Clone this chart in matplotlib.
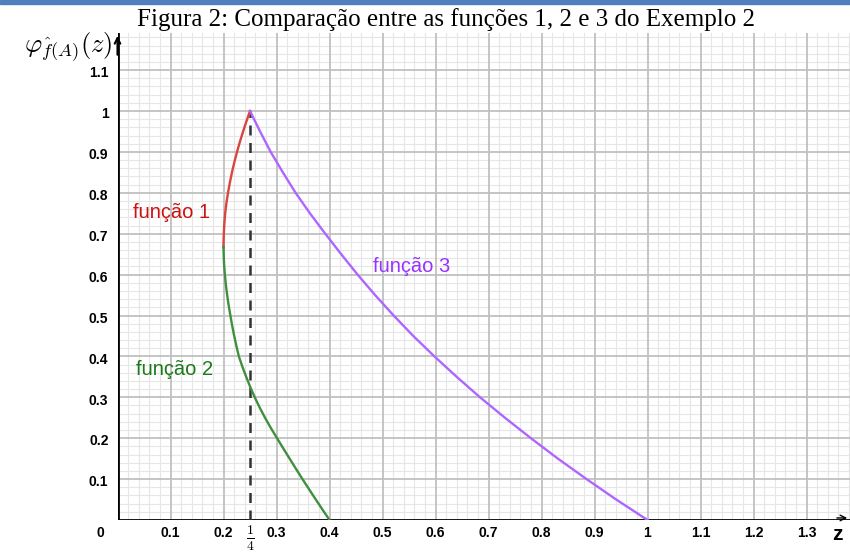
import matplotlib
matplotlib.use('Agg')
import matplotlib.pyplot as plt
from matplotlib.patches import Rectangle
import numpy as np

# curve points (z, phi)
f1_y = [0.667, 0.68, 0.70, 0.725, 0.75, 0.775, 0.80, 0.825, 0.85, 0.875, 0.90, 0.925, 0.95, 0.975, 1.0]
f1_z = [0.2000, 0.2001, 0.2006, 0.2016, 0.2032, 0.2055, 0.2085, 0.2120, 0.2160, 0.2205,
        0.2255, 0.2310, 0.2370, 0.2433, 0.2500]

f2_y = [0.667, 0.65, 0.625, 0.60, 0.575, 0.55, 0.525, 0.50, 0.475, 0.45, 0.425, 0.40,
        0.375, 0.35, 0.325, 0.30, 0.275, 0.25, 0.225, 0.20, 0.175, 0.15, 0.125, 0.10,
        0.075, 0.05, 0.025, 0.0]
f2_z = [0.2000, 0.2003, 0.2011, 0.2026, 0.2045, 0.2069, 0.2097, 0.2130, 0.2164, 0.2202,
        0.2244, 0.2290, 0.2356, 0.2428, 0.2506, 0.2590, 0.2682, 0.2784, 0.2893, 0.3010,
        0.3128, 0.3248, 0.3368, 0.3490, 0.3615, 0.3742, 0.3870, 0.4000]

f3_y = [1.0, 0.95, 0.9, 0.85, 0.8, 0.75, 0.7, 0.65, 0.6, 0.55, 0.5, 0.45, 0.4, 0.35,
        0.3, 0.25, 0.2, 0.15, 0.1, 0.05, 0.0]
f3_z = [0.250, 0.269, 0.289, 0.312, 0.336, 0.363, 0.392, 0.422, 0.453, 0.486, 0.521,
        0.558, 0.598, 0.640, 0.684, 0.731, 0.780, 0.831, 0.885, 0.941, 1.000]

x_ticks = [0.1, 0.2, 0.3, 0.4, 0.5, 0.6, 0.7, 0.8, 0.9, 1.0, 1.1, 1.2, 1.3]
x_labels = ['0.1', '0.2', '0.3', '0.4', '0.5', '0.6', '0.7', '0.8', '0.9', '1', '1.1', '1.2', '1.3']
y_ticks = [0.1, 0.2, 0.3, 0.4, 0.5, 0.6, 0.7, 0.8, 0.9, 1.0, 1.1]
y_labels = ['0.1', '0.2', '0.3', '0.4', '0.5', '0.6', '0.7', '0.8', '0.9', '1', '1.1']

plt.rcParams['font.family'] = ['Liberation Sans', 'DejaVu Sans']
plt.rcParams['mathtext.fontset'] = 'cm'

fig = plt.figure(figsize=(8.5, 5.52), dpi=100)
xmax = (850 - 117.5) / 530
ymax = (520 - 33) / 409
ax = fig.add_axes([117.5 / 850, 1 - 520 / 552, 1 - 117.5 / 850, (520 - 33) / 552])
ax.set_xlim(0, xmax)
ax.set_ylim(0, ymax)

# grid: major every 0.1, minor every 0.02
for v in np.arange(0.02, xmax, 0.02):
    major = abs(v * 10 - round(v * 10)) < 1e-6
    ax.axvline(v, color='#c0c0c0' if major else '#e6e6e6', lw=1.3 if major else 0.8, zorder=1 if major else 0)
for v in np.arange(0.02, ymax, 0.02):
    major = abs(v * 10 - round(v * 10)) < 1e-6
    ax.axhline(v, color='#c0c0c0' if major else '#e6e6e6', lw=1.3 if major else 0.8, zorder=1 if major else 0)

for s in ax.spines.values():
    s.set_visible(False)
ax.axhline(0, color='black', lw=2, zorder=3)
ax.axvline(0, color='black', lw=2, zorder=3)
ax.annotate('', xy=(0, ymax), xytext=(0, ymax - 0.06),
            arrowprops=dict(arrowstyle='->', lw=1.5, color='black'), annotation_clip=False)
ax.annotate('', xy=(xmax, 0.005), xytext=(xmax - 0.03, 0.005),
            arrowprops=dict(arrowstyle='->', lw=1.0, color='black'), annotation_clip=False)

# dashed line at z = 1/4
ax.plot([0.25, 0.25], [0, 1], color='#333333', lw=1.8, ls=(0, (4, 3)), zorder=4)

ax.plot(f1_z, f1_y, color='#d9453f', lw=1.7, zorder=5)
ax.plot(f2_z, f2_y, color='#3f8f3f', lw=1.7, zorder=5)
ax.plot(f3_z, f3_y, color='#ad66ff', lw=1.7, zorder=5)

ax.text(0.029, 0.753, 'função 1', color='#cc1111', fontsize=14.5, va='center', ha='left')
ax.text(0.035, 0.367, 'função 2', color='#1a7a1a', fontsize=14.5, va='center', ha='left')
ax.text(0.482, 0.621, 'função 3', color='#9933ff', fontsize=14.5, va='center', ha='left')

ax.set_xticks([])
ax.set_yticks([])
for t, lab in zip(x_ticks, x_labels):
    ax.text(t, -0.032, lab, ha='center', va='center', fontsize=10, fontweight='bold')
ax.text(0.25, -0.045, r'$\frac{1}{4}$', ha='center', va='center', fontsize=14)
for t, lab in zip(y_ticks, y_labels):
    ax.text(-0.017, t - 0.008, lab, ha='right', va='center', fontsize=10, fontweight='bold')
ax.text(-0.025, -0.032, '0', ha='right', va='center', fontsize=10, fontweight='bold')
ax.text(xmax - 0.013, -0.035, 'z', ha='right', va='center', fontsize=15, fontweight='bold')
ax.text(-0.01, 1.155, r'$\varphi_{\hat{f}(A)}(z)$', ha='right', va='center', fontsize=19)

fig.text(446 / 850, 1 - 20 / 552, 'Figura 2: Comparação entre as funções 1, 2 e 3 do Exemplo 2',
         ha='center', va='center', fontsize=18, family='Liberation Serif')
fig.patches.append(Rectangle((0, 1 - 4 / 552), 1, 4 / 552, transform=fig.transFigure,
                             color='#4f7fbd', zorder=10))

fig.savefig('out.png', dpi=100)
